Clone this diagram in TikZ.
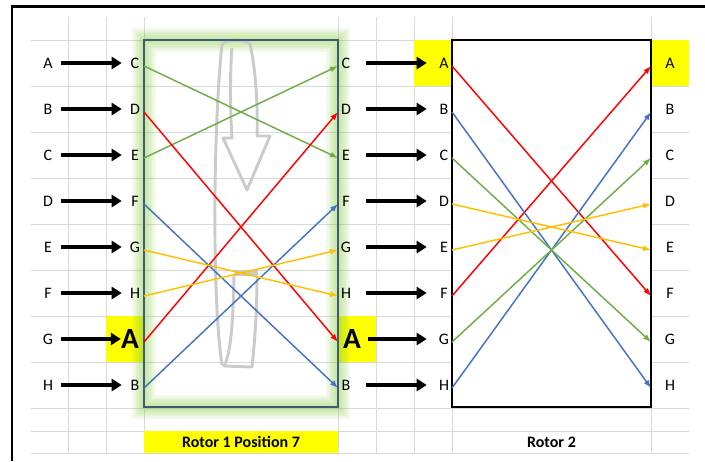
\documentclass[tikz,border=0pt]{standalone}
\usepackage{fontspec}
\setmainfont{Carlito}
\usetikzlibrary{arrows.meta}
\definecolor{gridgray}{HTML}{D9D9D9}
\definecolor{hilite}{HTML}{FFFF00}
\definecolor{glowgreen}{HTML}{92D050}
\definecolor{rotorblue}{HTML}{3E5C7A}
\definecolor{wgreen}{HTML}{70AD47}
\definecolor{wred}{HTML}{FF0000}
\definecolor{wblue}{HTML}{4472C4}
\definecolor{wyellow}{HTML}{FFC000}
\definecolor{ringgray}{HTML}{CBCBCB}

\begin{document}
\begin{tikzpicture}[x=0.75pt,y=-0.75pt,
  lbl/.style={font=\fontsize{12}{14}\selectfont, inner sep=0pt, minimum width=9pt},
  biglbl/.style={font=\bfseries\fontsize{22}{24}\selectfont, inner sep=0pt},
  cell/.style={fill=hilite, inner sep=0pt, minimum width=28.5pt, minimum height=34.5pt},
  captxt/.style={font=\bfseries\fontsize{12}{14}\selectfont, inner sep=0pt, minimum height=16.5pt},
  bigarr/.style={-{Triangle[length=7.5pt,width=9pt]}, line width=2.5pt},
  wire/.style={-{Latex[length=6pt,width=4.5pt]}, line width=1.1pt},
  gridline/.style={gridgray, line width=0.75pt},
  ring/.style={ringgray, line width=2.2pt, line join=round},
]
\useasboundingbox (0,0) rectangle (705,461);

% sheet grid and frame
\foreach \y in {40,86,...,408,431,453} {\draw[gridline] (31,\y) -- (689,\y);}
\foreach \x in {68,106,144,338,376,414,452,651} {\draw[gridline] (\x,17) -- (\x,453);}
\draw[line width=1.9pt] (705,6.5) -- (12,6.5) -- (12,461);

% highlighted cells
\node[cell] (hl1) at (125,339) {};
\node[cell] (hl2) at (357,339) {};
\node[cell] (hl3) at (433,63) {};
\node[cell] (hl4) at (670,63) {};

% rotor 1 glow, turning mark and box
\foreach \w in {18,16,...,2} {\draw[glowgreen, line width=\w pt, opacity=0.08] (144,40) rectangle (338,407);}
\draw[ring] (222,44) .. controls (213,130) and (212,300) .. (222,365);
\draw[ring] (234,275) .. controls (233,330) and (230,355) .. (224,366) -- (252,367) .. controls (256,330) and (257,300) .. (257,275);
\fill[ringgray] (234,270) rectangle (258,276);
\draw[ring] (222,44) .. controls (228,39) and (244,39) .. (250,44) .. controls (256,70) and (258,110) .. (257,136) -- (270,136) -- (247,190) -- (223,138) -- (232,138) .. controls (230,110) and (230,70) .. (232,48);
\draw[rotorblue, line width=1.5pt] (144,40) rectangle (338,407);
\draw[line width=1.5pt, fill=white] (452,40) rectangle (651,407);

% wire ends
\foreach \i in {1,...,8} {
  \coordinate (pL\i) at (144,{20+46*\i});
  \coordinate (pR\i) at (338,{20+46*\i});
  \coordinate (qL\i) at (452,{20+46*\i});
  \coordinate (qR\i) at (651,{20+46*\i});
}
\foreach \s/\t/\c in {1/3/wgreen,3/1/wgreen,2/7/wred,7/2/wred,4/8/wblue,8/4/wblue,5/6/wyellow,6/5/wyellow} {\draw[wire,\c] (pL\s) -- (pR\t);}
\foreach \s/\t/\c in {1/6/wred,6/1/wred,2/8/wblue,8/2/wblue,3/7/wgreen,7/3/wgreen,4/5/wyellow,5/4/wyellow} {\draw[wire,\c] (qL\s) -- (qR\t);}

% letters and key arrows
\foreach \i/\p/\q in {1/A/C,2/B/D,3/C/E,4/D/F,5/E/G,6/F/H,8/H/B} {
  \node[lbl] (in\i) at (48,{17+46*\i}) {\p};
  \node[lbl] (ra\i) at (135,{17+46*\i}) {\q};
  \node[lbl] (rb\i) at (346,{17+46*\i}) {\q};
  \node[lbl] (sa\i) at (444,{17+46*\i}) {\p};
  \node[lbl] (sb\i) at (670,{17+46*\i}) {\p};
  \draw[bigarr, shorten <=5.25pt, shorten >=5.25pt] (in\i) -- (ra\i);
  \draw[bigarr, shorten <=10.5pt, shorten >=8.25pt] (rb\i) -- (sa\i);
}
\node[lbl] (in7) at (48,339) {G};
\node[biglbl] (ra7) at (130,339) {A};
\node[biglbl] (rb7) at (352,339) {A};
\node[lbl] (sa7) at (444,339) {G};
\node[lbl] (sb7) at (670,339) {G};
\draw[bigarr, shorten <=5.25pt] (in7) -- (ra7);
\draw[bigarr, shorten <=5pt, shorten >=8.25pt] (rb7) -- (sa7);

\node[captxt, fill=hilite, minimum width=145.5pt] (cap1) at (241,442) {Rotor 1 Position 7};
\node[captxt] (cap2) at (551.5,442) {Rotor 2};

\end{tikzpicture}
\end{document}
